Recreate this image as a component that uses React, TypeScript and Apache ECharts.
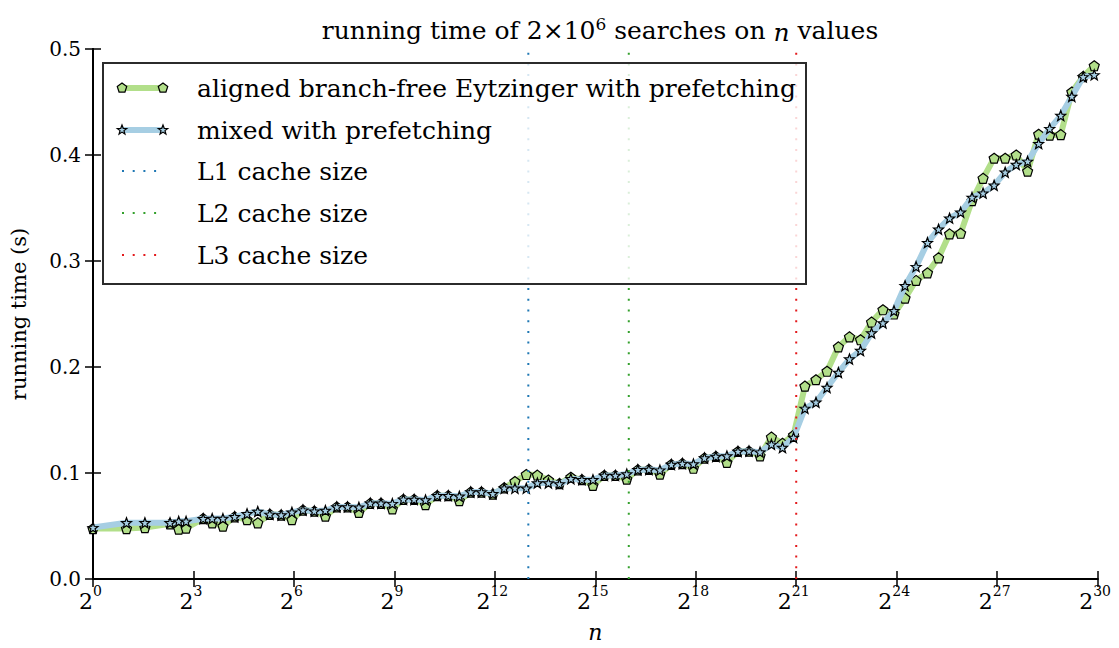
import React, { useEffect, useRef } from "react";
import * as echarts from "echarts";

// x positions as base-2 exponents (log2 n)
const exponents = [
  0, 1.0, 1.55, 2.3, 2.56, 2.78, 3.29, 3.56, 3.88, 4.23, 4.6, 4.92,
  5.28, 5.62, 5.94, 6.27, 6.61, 6.94, 7.28, 7.6, 7.94, 8.28, 8.6, 8.94,
  9.27, 9.59, 9.93, 10.28, 10.61, 10.94, 11.28, 11.6, 11.94, 12.28, 12.6, 12.94,
  13.27, 13.6, 13.93, 14.27, 14.6, 14.93, 15.27, 15.6, 15.94, 16.27, 16.6, 16.93,
  17.27, 17.6, 17.93, 18.26, 18.6, 18.93, 19.26, 19.59, 19.92, 20.26, 20.59, 20.92,
  21.26, 21.59, 21.92, 22.26, 22.59, 22.92, 23.25, 23.59, 23.92, 24.25, 24.58, 24.92,
  25.25, 25.58, 25.91, 26.25, 26.58, 26.91, 27.24, 27.57, 27.91, 28.24, 28.57, 28.9,
  29.23, 29.57, 29.9,
];

const alignedEytzinger = [
  0.0476, 0.0476, 0.0485, 0.052, 0.047, 0.048, 0.057, 0.053, 0.0498, 0.0587, 0.056, 0.053,
  0.061, 0.0603, 0.056, 0.065, 0.064, 0.0594, 0.068, 0.068, 0.0628, 0.0714, 0.0714, 0.0661,
  0.0751, 0.075, 0.0702, 0.0786, 0.0786, 0.074, 0.082, 0.082, 0.08, 0.086, 0.092, 0.0986,
  0.098, 0.0934, 0.09, 0.096, 0.0937, 0.0884, 0.0977, 0.0977, 0.0943, 0.103, 0.1033, 0.099,
  0.108, 0.1089, 0.1045, 0.1141, 0.1156, 0.11, 0.1203, 0.1206, 0.1162, 0.1339, 0.128, 0.1357,
  0.182, 0.188, 0.196, 0.219, 0.2285, 0.2257, 0.2424, 0.254, 0.25, 0.265, 0.2817, 0.2888,
  0.303, 0.3256, 0.3262, 0.357, 0.378, 0.397, 0.397, 0.4, 0.3847, 0.4196, 0.4187, 0.4193,
  0.4595, 0.474, 0.4842,
];

const mixedPrefetch = [
  0.0485, 0.053, 0.053, 0.053, 0.0544, 0.0544, 0.0569, 0.057, 0.057, 0.0587, 0.0615, 0.0637,
  0.061, 0.0603, 0.063, 0.065, 0.064, 0.0646, 0.068, 0.068, 0.0677, 0.0714, 0.0714, 0.0711,
  0.0751, 0.075, 0.0745, 0.0786, 0.0786, 0.078, 0.082, 0.082, 0.0804, 0.0856, 0.0856, 0.0856,
  0.0906, 0.0906, 0.0897, 0.0946, 0.0937, 0.0937, 0.0977, 0.0977, 0.099, 0.103, 0.1033, 0.1027,
  0.108, 0.1089, 0.1085, 0.1141, 0.1156, 0.116, 0.1203, 0.1206, 0.1197, 0.127, 0.124, 0.1335,
  0.161, 0.1667, 0.1806, 0.1948, 0.2075, 0.2155, 0.232, 0.2415, 0.253, 0.2767, 0.2947, 0.3173,
  0.33, 0.3404, 0.346, 0.36, 0.364, 0.3714, 0.3837, 0.391, 0.394, 0.4107, 0.4249, 0.4372,
  0.4552, 0.4737, 0.4756,
];

const seriesNames = [
  "aligned branch-free Eytzinger with prefetching",
  "mixed with prefetching",
];
const cacheNames = ["L1 cache size", "L2 cache size", "L3 cache size"];
const cacheExponents = [13, 16, 21];

const xTicks = [0, 3, 6, 9, 12, 15, 18, 21, 24, 27, 30];
const yTicks = [0.0, 0.1, 0.2, 0.3, 0.4, 0.5];

const GREEN = "#b2df8a";
const BLUE = "#a6cee3";
const cacheColors = ["#1f78b4", "#33a02c", "#e31a1c"];
const FONT = "DejaVu Serif";

function polyPoints(n: number, rOuter: number, rInner: number | null) {
  const pts: number[][] = [];
  const count = rInner === null ? n : n * 2;
  for (let k = 0; k < count; k++) {
    const a = -Math.PI / 2 + (k * 2 * Math.PI) / count;
    const r = rInner === null || k % 2 === 0 ? rOuter : rInner;
    pts.push([r * Math.cos(a), r * Math.sin(a)]);
  }
  return pts;
}
function toPath(pts: number[][]) {
  return (
    "path://" +
    pts.map((p, i) => (i ? "L" : "M") + p[0].toFixed(3) + "," + p[1].toFixed(3)).join(" ") +
    " Z"
  );
}
const pentagonPts = polyPoints(5, 1, null);
const starPts = polyPoints(5, 1, 0.42);
const PENTAGON = toPath(pentagonPts);
const STAR = toPath(starPts);

export default function App() {
  const ref = useRef<HTMLDivElement>(null);
  useEffect(() => {
    if (!ref.current) return;
    const chart = echarts.init(ref.current, null, { renderer: "svg" });

    const legendX = 122;
    const legendX2 = 163;
    const textX = 197;
    const rowY = [88, 130, 171, 213, 255];
    const legendFont = `25px "${FONT}"`;
    const legendGraphics: any[] = [
      {
        type: "rect",
        shape: { x: 103, y: 63, width: 703, height: 221 },
        style: { fill: "rgba(255,255,255,0.82)", stroke: "#2b2b2b", lineWidth: 2 },
        z: 100,
      },
    ];
    const markerAt = (pts: number[][], cx: number, cy: number, r: number, fill: string) => ({
      type: "polygon",
      shape: { points: pts.map((p) => [cx + p[0] * r, cy + p[1] * r]) },
      style: { fill, stroke: "#000", lineWidth: 1.2 },
      z: 102,
    });
    [
      { color: GREEN, pts: pentagonPts },
      { color: BLUE, pts: starPts },
    ].forEach((s, i) => {
      legendGraphics.push({
        type: "line",
        shape: { x1: legendX, y1: rowY[i], x2: legendX2, y2: rowY[i] },
        style: { stroke: s.color, lineWidth: 6 },
        z: 101,
      });
      legendGraphics.push(markerAt(s.pts, legendX, rowY[i], 5, s.color));
      legendGraphics.push(markerAt(s.pts, legendX2, rowY[i], 5, s.color));
      legendGraphics.push({
        type: "text",
        x: textX,
        y: rowY[i],
        style: { text: seriesNames[i], font: legendFont, fill: "#000", verticalAlign: "middle" },
        z: 102,
      });
    });
    cacheNames.forEach((name, j) => {
      const y = rowY[2 + j];
      legendGraphics.push({
        type: "line",
        shape: { x1: legendX, y1: y, x2: legendX2, y2: y },
        style: { stroke: cacheColors[j], lineWidth: 2, lineDash: [2, 8.7] },
        z: 101,
      });
      legendGraphics.push({
        type: "text",
        x: textX,
        y,
        style: { text: name, font: legendFont, fill: "#000", verticalAlign: "middle" },
        z: 102,
      });
    });

    const frameAxis = { lineStyle: { color: "#000", width: 2 } };
    const tick = { inside: true, length: 8, lineStyle: { color: "#000", width: 1.5 } };

    chart.setOption({
      animation: false,
      backgroundColor: "#fff",
      textStyle: { fontFamily: FONT },
      title: {
        text: "running time of 2\u00d710{sup|6} searches on {i|n} values",
        left: 595,
        top: 10,
        textAlign: "center",
        textStyle: {
          fontFamily: FONT,
          fontSize: 25,
          lineHeight: 30,
          fontWeight: "normal",
          color: "#000",
          rich: {
            sup: { fontFamily: FONT, fontSize: 17, color: "#000", verticalAlign: "top", lineHeight: 17, padding: [0, 0, 16, 0] },
            i: { fontFamily: FONT, fontSize: 25, fontStyle: "italic", color: "#000", lineHeight: 30, verticalAlign: "bottom" },
          },
        },
      },
      grid: { left: 90, right: 19, top: 49, bottom: 60, containLabel: false },
      xAxis: [
        {
          type: "value",
          min: xTicks[0],
          max: xTicks[xTicks.length - 1],
          interval: 3,
          position: "bottom",
          axisLine: frameAxis,
          axisTick: tick,
          splitLine: { show: false },
          name: "n",
          nameLocation: "middle",
          nameGap: 42,
          nameTextStyle: { fontFamily: FONT, fontSize: 22, fontStyle: "italic", color: "#000" },
          axisLabel: {
            margin: 5,
            formatter: (v: number) => `{b|2}{s|${v}}`,
            rich: {
              b: { fontFamily: FONT, fontSize: 22, color: "#000", verticalAlign: "bottom", lineHeight: 28 },
              s: { fontFamily: FONT, fontSize: 14, color: "#000", verticalAlign: "top", lineHeight: 16, padding: [0, 5, 16, 0] },
            },
          },
        },
        {
          type: "value",
          min: xTicks[0],
          max: xTicks[xTicks.length - 1],
          interval: 3,
          position: "top",
          axisLine: frameAxis,
          axisTick: tick,
          axisLabel: { show: false },
          splitLine: { show: false },
        },
      ],
      yAxis: [
        {
          type: "value",
          min: yTicks[0],
          max: yTicks[yTicks.length - 1],
          interval: 0.1,
          position: "left",
          axisLine: frameAxis,
          axisTick: tick,
          splitLine: { show: false },
          name: "running time (s)",
          nameLocation: "middle",
          nameGap: 64,
          nameTextStyle: { fontFamily: FONT, fontSize: 21, color: "#000" },
          axisLabel: {
            margin: 12,
            fontFamily: FONT,
            fontSize: 20,
            color: "#000",
            formatter: (v: number) => v.toFixed(1),
          },
        },
        {
          type: "value",
          min: yTicks[0],
          max: yTicks[yTicks.length - 1],
          interval: 0.1,
          position: "right",
          axisLine: frameAxis,
          axisTick: tick,
          axisLabel: { show: false },
          splitLine: { show: false },
        },
      ],
      series: [
        {
          name: seriesNames[0],
          type: "line",
          data: exponents.map((x, i) => [x, alignedEytzinger[i]]),
          lineStyle: { color: GREEN, width: 6 },
          symbol: PENTAGON,
          symbolSize: 10,
          showAllSymbol: true,
          itemStyle: { color: GREEN, borderColor: "#000", borderWidth: 1.2 },
          z: 2,
        },
        {
          name: seriesNames[1],
          type: "line",
          data: exponents.map((x, i) => [x, mixedPrefetch[i]]),
          lineStyle: { color: BLUE, width: 6 },
          symbol: STAR,
          symbolSize: 10,
          showAllSymbol: true,
          itemStyle: { color: BLUE, borderColor: "#000", borderWidth: 1.2 },
          z: 3,
        },
        ...cacheNames.map((name, j) => ({
          name,
          type: "line",
          data: [
            [cacheExponents[j], yTicks[0]],
            [cacheExponents[j], yTicks[yTicks.length - 1]],
          ],
          symbol: "none",
          lineStyle: { color: cacheColors[j], width: 2, type: [2, 8.7] },
          z: 4,
        })),
      ],
      graphic: legendGraphics,
    });
    return () => chart.dispose();
  }, []);
  return <div ref={ref} style={{ width: 1119, height: 648, margin: -8 }} />;
}
